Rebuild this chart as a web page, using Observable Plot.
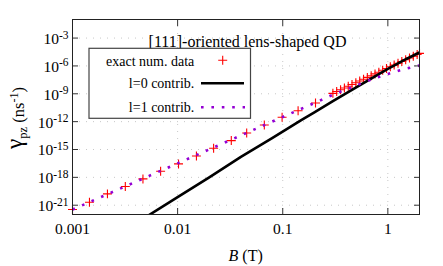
<!DOCTYPE html>
<html>
<head>
<meta charset="utf-8">
<script src="https://cdn.jsdelivr.net/npm/d3@7"></script>
<script src="https://cdn.jsdelivr.net/npm/@observablehq/plot@0.6"></script>
<style>
  html, body { margin: 0; padding: 0; background: #fff; }
  #chart { width: 443px; height: 266px; overflow: hidden; }
</style>
</head>
<body>
<div id="chart"></div>
<script>
// ---- data ----
const bExact = [0.001, 0.00145, 0.00215, 0.00318, 0.00468, 0.00689, 0.0102, 0.0151, 0.022, 0.0324,
  0.0454, 0.0668, 0.0986, 0.14, 0.205,
  0.3, 0.326, 0.355, 0.386, 0.42, 0.456, 0.496, 0.54, 0.587, 0.638, 0.694, 0.755, 0.821, 0.893,
  0.971, 1.056, 1.148, 1.249, 1.358, 1.477, 1.606, 1.746, 1.9, 2.0];
const gExact = [3.4e-22, 2.1e-21, 1.66e-20, 1.02e-19, 6.8e-19, 4.6e-18, 2.8e-17, 2.0e-16, 1.35e-15, 9.1e-15,
  6.0e-14, 4.4e-13, 2.95e-12, 1.51e-11, 1.02e-10,
  1.12e-9, 1.74e-9, 2.7e-9, 4.2e-9, 6.5e-9, 1.0e-8, 1.55e-8, 2.4e-8, 3.7e-8, 5.8e-8, 8.9e-8, 1.38e-7, 2.1e-7, 3.4e-7,
  5.2e-7, 8.1e-7, 1.23e-6, 1.95e-6, 3.0e-6, 4.7e-6, 7.2e-6, 1.12e-5, 1.74e-5, 2.24e-5];

const bL0 = [0.005, 0.01, 0.02, 0.04, 0.08, 0.15, 0.2, 0.3, 0.5, 0.7, 1, 1.5, 2];
const gL0 = [5.4e-23, 7.4e-21, 1.0e-18, 1.58e-16, 1.78e-14, 1.48e-12, 1.0e-11, 1.58e-10, 5.0e-9, 4.7e-8, 4.7e-7, 5.6e-6, 2.8e-5];

const bL1 = [0.001, 0.01, 0.1, 0.2, 0.3, 0.5, 0.7, 1, 1.5, 2];
const gL1 = [3.4e-22, 3.2e-17, 3.2e-12, 1.0e-10, 7.9e-10, 7.9e-9, 3.5e-8, 1.38e-7, 5.2e-7, 1.12e-6];

const xTicks = [0.001, 0.01, 0.1, 1];
const xTickLabels = ["0.001", "0.01", "0.1", "1"];
const yTicks = [1e-21, 1e-18, 1e-15, 1e-12, 1e-9, 1e-6, 1e-3];
const yTickExponents = ["-21", "-18", "-15", "-12", "-9", "-6", "-3"];
const titleText = "[111]-oriented lens-shaped QD";
const legendLabels = ["exact num. data", "l=0 contrib.", "l=1 contrib."];
const colors = { exact: "#ff0000", l0: "#000000", l1: "#9400d3" };

// ---- tables ----
const exact = bExact.map((b, i) => ({ b, g: gExact[i] }));
const l0 = bL0.map((b, i) => ({ b, g: gL0[i] }));
const l1 = bL1.map((b, i) => ({ b, g: gL1[i] }));

const FONT = "'Liberation Serif', 'Times New Roman', Times, serif";
const gridStyle = { stroke: "#c8c8c8", strokeOpacity: 1, strokeDasharray: "1,6", strokeWidth: 1 };
const tickStyle = { stroke: "#333", fill: "none", label: null, tickSize: 6 };

const plot = Plot.plot({
  width: 443,
  height: 266,
  marginLeft: 72,
  marginRight: 24,
  marginTop: 19,
  marginBottom: 52,
  style: { fontFamily: FONT, fontSize: "15.5px", background: "#fff", color: "#000" },
  x: { type: "log", domain: [0.001, 2], label: null },
  y: { type: "log", domain: [1e-22, 1e-1], label: null },
  marks: [
    Plot.gridX(xTicks, gridStyle),
    Plot.gridY(yTicks, gridStyle),
    Plot.text([titleText], { text: d => d, frameAnchor: "top", dx: 1.5, dy: 16, fontSize: 16, fill: "#000" }),
    Plot.dot(exact, { x: "b", y: "g", symbol: "plus", r: 3, stroke: colors.exact, strokeWidth: 1.1 }),
    Plot.line(l0, { x: "b", y: "g", stroke: colors.l0, strokeWidth: 2.6, clip: true }),
    Plot.line(l1, { x: "b", y: "g", stroke: colors.l1, strokeWidth: 2.6, strokeLinecap: "butt",
      strokeDasharray: "2.6,7.8", clip: true }),
    // inward ticks on all four sides
    Plot.axisX(xTicks, { ...tickStyle, anchor: "bottom", dy: -6 }),
    Plot.axisX(xTicks, { ...tickStyle, anchor: "top", dy: 6 }),
    Plot.axisY(yTicks, { ...tickStyle, anchor: "left", dx: 6 }),
    Plot.axisY(yTicks, { ...tickStyle, anchor: "right", dx: -6 }),
    // tick labels
    Plot.axisX(xTicks, { anchor: "bottom", tickSize: 0, tickPadding: 8, stroke: "none", fill: "#000",
      label: null, fontSize: 15.5, tickFormat: d => xTickLabels[xTicks.indexOf(d)] }),
    Plot.axisY(yTicks, { anchor: "left", tickSize: 0, tickPadding: 4, stroke: "none", fill: "#000",
      label: null, fontSize: 15.5, dy: 1, tickFormat: d => "10^" + yTickExponents[yTicks.indexOf(d)] }),
    Plot.frame({ stroke: "#222", strokeWidth: 1 })
  ]
});

document.getElementById("chart").appendChild(plot);

const svg = d3.select(plot);
const NS = "http://www.w3.org/2000/svg";

// superscript exponents on y tick labels
svg.selectAll("text").each(function () {
  const t = this;
  if (t.childElementCount === 0 && t.textContent.startsWith("10^")) {
    const exp = t.textContent.slice(3);
    t.textContent = "10";
    const ts = document.createElementNS(NS, "tspan");
    ts.setAttribute("dy", "-5.5");
    ts.setAttribute("font-size", "11.5");
    ts.textContent = exp;
    t.appendChild(ts);
  }
});

// legend
const lg = svg.append("g").attr("font-family", FONT).attr("font-size", 14).attr("fill", "#000");
lg.append("rect").attr("x", 89).attr("y", 48.3).attr("width", 161.5).attr("height", 70)
  .attr("fill", "#fff").attr("stroke", "#444").attr("stroke-width", 1.2);
const rowsY = [61.7, 83.3, 107.3];
legendLabels.forEach((s, i) => {
  lg.append("text").attr("x", 194.3).attr("y", rowsY[i]).attr("dy", "0.32em")
    .attr("text-anchor", "end").text(s);
});
lg.append("path").attr("d", d3.symbol(d3.symbolPlus, Math.PI * 9)())
  .attr("transform", `translate(222.7,${rowsY[0] - 1.5})`)
  .attr("stroke", colors.exact).attr("stroke-width", 1.1).attr("fill", "none");
lg.append("line").attr("x1", 201).attr("x2", 244).attr("y1", rowsY[1]).attr("y2", rowsY[1])
  .attr("stroke", colors.l0).attr("stroke-width", 2.6);
lg.append("line").attr("x1", 201).attr("x2", 245).attr("y1", rowsY[2]).attr("y2", rowsY[2])
  .attr("stroke", colors.l1).attr("stroke-width", 2.6).attr("stroke-dasharray", "2.6,7.8");

// y axis label: γ_pz (ns^-1)
const yl = svg.append("text").attr("transform", "translate(24,118) rotate(-90)")
  .attr("text-anchor", "middle").attr("font-family", FONT).attr("fill", "#000").attr("font-size", 16.5);
yl.append("tspan").attr("dy", -2).attr("font-size", 23).text("γ");
yl.append("tspan").attr("dy", 5).attr("font-size", 12.5).text("pz");
yl.append("tspan").attr("dy", -3).text(" (ns");
yl.append("tspan").attr("dy", -6).attr("font-size", 12).text("-1");
yl.append("tspan").attr("dy", 6).text(")");

// x axis label: B (T)
const xl = svg.append("text").attr("x", 245.7).attr("y", 260.5).attr("text-anchor", "middle")
  .attr("font-family", FONT).attr("font-size", 16).attr("fill", "#000");
xl.append("tspan").attr("font-style", "italic").text("B");
xl.append("tspan").text(" (T)");
</script>
</body>
</html>
